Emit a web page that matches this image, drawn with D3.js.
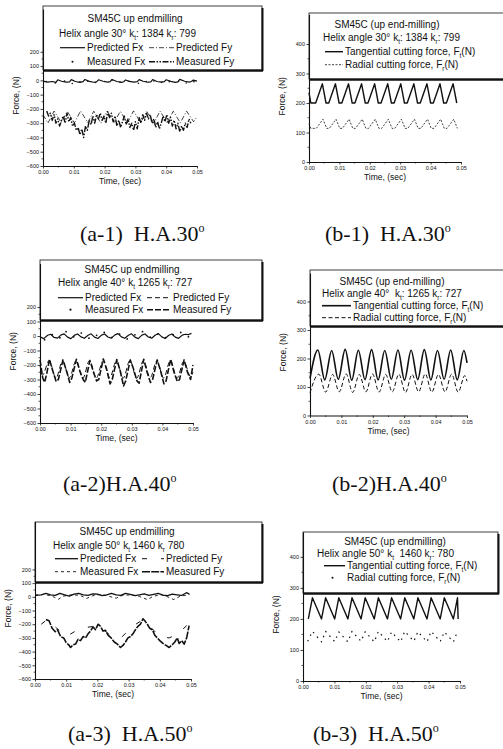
<!DOCTYPE html>
<html>
<head>
<meta charset="utf-8">
<script src="https://cdn.jsdelivr.net/npm/d3@7"></script>
<style>
  body { margin: 0; background: #fff; }
  svg text { font-family: "Liberation Sans", Arial, sans-serif; fill: #111; }
  svg text.cap { font-family: "Liberation Serif", "Times New Roman", serif; }
</style>
</head>
<body>
<script>
// ---- ticks ----
const TIME_TICKS = [0, 0.01, 0.02, 0.03, 0.04, 0.05];
const FXY_TICKS = [-600, -500, -400, -300, -200, -100, 0, 100, 200];
const FTR_TICKS = [0, 100, 200, 300, 400];

// ---- (a-1) helix 30: [time s, force N] ----
const a1PredFx = [[0,-5],[.0015,-12],[.003,-8],[.0042,-14],[.0048,4],[.006,-6],[.0075,-12],[.0086,-10],[.0092,5],[.0105,-8],[.012,-14],[.013,-9],[.0136,6],[.015,-7],[.0165,-13],[.0174,-10],[.018,4],[.0195,-6],[.021,-12],[.0218,-9],[.0224,6],[.024,-8],[.0255,-14],[.0262,-10],[.0268,3],[.028,-7],[.0295,-12],[.0306,-9],[.0312,5],[.0325,-6],[.034,-13],[.035,-10],[.0356,6],[.037,-8],[.0385,-12],[.0394,-9],[.04,4],[.0415,-7],[.043,-14],[.0438,-10],[.0444,7],[.046,-6],[.0475,-12],[.0482,-8],[.0488,2],[.05,-5]];
const a1MeasFx = [[.001,-8],[.004,-18],[.007,-5],[.0095,-22],[.012,-10],[.0145,-5],[.017,-15],[.02,-8],[.0225,2],[.025,-12],[.028,-6],[.031,-20],[.0335,-8],[.036,-4],[.0385,-14],[.041,-10],[.044,-6],[.0465,-18],[.049,-9]];
const a1PredFy = [[0,-240],[.0016,-300],[.0036,-215],[.0059,-295],[.0079,-218],[.0102,-298],[.0122,-214],[.0145,-296],[.0165,-216],[.0188,-300],[.0208,-215],[.0231,-294],[.0251,-217],[.0274,-298],[.0294,-214],[.0317,-296],[.0337,-218],[.036,-300],[.038,-215],[.0403,-295],[.0423,-216],[.0446,-298],[.0466,-215],[.0489,-290],[.05,-255]];
const a1MeasFy = [[.0012,-215],[.0018,-250],[.0024,-230],[.003,-280],[.0036,-240],[.0042,-300],[.0048,-270],[.0054,-320],[.006,-280],[.0066,-250],[.0072,-300],[.0078,-230],[.0084,-290],[.009,-260],[.0096,-320],[.0102,-300],[.0108,-350],[.0114,-330],[.012,-380],[.0126,-340],[.0132,-400],[.0138,-320],[.0144,-350],[.015,-280],[.0156,-310],[.0162,-250],[.0168,-300],[.0174,-240],[.018,-270],[.0186,-230],[.0192,-280],[.0198,-250],[.0204,-300],[.021,-220],[.0216,-260],[.0222,-230],[.0228,-290],[.0234,-250],[.024,-320],[.0246,-280],[.0252,-330],[.0258,-290],[.0264,-250],[.027,-310],[.0276,-270],[.0282,-330],[.0288,-300],[.0294,-350],[.03,-290],[.0306,-340],[.0312,-260],[.0318,-300],[.0324,-240],[.033,-280],[.0336,-230],[.0342,-270],[.0348,-240],[.0354,-300],[.036,-270],[.0366,-330],[.0372,-290],[.0378,-340],[.0384,-300],[.039,-250],[.0396,-290],[.0402,-240],[.0408,-300],[.0414,-260],[.042,-320],[.0426,-280],[.0432,-340],[.0438,-300],[.0444,-360],[.045,-320],[.0456,-350],[.0462,-300],[.0468,-330],[.0474,-270],[.048,-300]];

// ---- (a-2) helix 40 ----
const a2PredFx = [[0,-5],[.0012,-18],[.0025,5],[.0035,12],[.0046,-10],[.0057,-15],[.0069,8],[.0079,15],[.009,-8],[.0101,-18],[.0113,6],[.0123,14],[.0134,-6],[.0145,-16],[.0157,5],[.0167,15],[.0178,-8],[.0189,-17],[.0201,6],[.0211,14],[.0222,-7],[.0233,-15],[.0245,8],[.0255,16],[.0266,-6],[.0277,-16],[.0289,5],[.0299,15],[.031,-8],[.0321,-18],[.0333,6],[.0343,14],[.0354,-7],[.0365,-15],[.0377,7],[.0387,16],[.0398,-6],[.0409,-17],[.0421,5],[.0431,14],[.0442,-8],[.0453,-16],[.0465,6],[.0475,12],[.0486,10],[.0495,18]];
const a2MeasFx = [[.0015,-25],[.004,10],[.0065,-12],[.0085,30],[.011,-5],[.0135,20],[.016,-15],[.0185,5],[.021,25],[.0235,-10],[.026,12],[.0285,-20],[.031,8],[.0335,30],[.036,-8],[.0385,15],[.041,-12],[.0435,10],[.046,25],[.0485,-5]];
const a2PredFy = [[0,-200],[.0008,-270],[.003,-170],[.0052,-290],[.0074,-172],[.0096,-288],[.0118,-170],[.014,-292],[.0162,-168],[.0184,-290],[.0206,-172],[.0228,-288],[.025,-170],[.0272,-290],[.0294,-168],[.0316,-292],[.0338,-170],[.036,-288],[.0382,-172],[.0404,-290],[.0426,-170],[.0448,-290],[.047,-175],[.0492,-280],[.05,-250]];
const a2MeasFy = [[0,-165],[.0009,-290],[.0015,-320],[.0022,-260],[.0031,-160],[.004,-230],[.0053,-315],[.006,-300],[.0075,-165],[.0088,-250],[.0097,-320],[.0104,-290],[.0119,-160],[.013,-240],[.0141,-300],[.0148,-320],[.0163,-170],[.0175,-250],[.0185,-310],[.0192,-300],[.0207,-158],[.0218,-230],[.0229,-330],[.0236,-300],[.0251,-162],[.0262,-240],[.0273,-345],[.028,-310],[.0295,-165],[.0306,-230],[.0317,-310],[.0324,-325],[.0339,-160],[.035,-250],[.0361,-320],[.0368,-300],[.0383,-165],[.0394,-240],[.0405,-330],[.0412,-310],[.0427,-160],[.0438,-250],[.0449,-315],[.0456,-300],[.0471,-165],[.0482,-250],[.0492,-300],[.05,-200]];

// ---- (a-3) helix 50 ----
const a3PredFx = [[0,10],[.002,15],[.0035,25],[.005,15],[.0065,10],[.008,25],[.0095,15],[.011,5],[.0125,20],[.014,25],[.0155,15],[.017,10],[.0185,22],[.02,20],[.0215,8],[.023,15],[.0245,25],[.026,15],[.0275,10],[.029,25],[.0305,18],[.032,8],[.0335,15],[.035,22],[.0365,10],[.038,18],[.0395,25],[.041,12],[.0425,8],[.044,20],[.0455,15],[.047,10],[.0485,30],[.0495,20]];
const a3MeasFx = [[0,12],[.003,18],[.0055,5],[.0075,-18],[.009,5],[.012,15],[.0145,10],[.0165,-12],[.0185,8],[.021,18],[.0235,5],[.026,-10],[.028,10],[.031,15],[.0335,2],[.036,-20],[.038,5],[.0405,15],[.0425,0],[.0445,-20],[.0465,5],[.0485,12],[.0495,15]];
const a3PredFy = [[.002,-200],[.004,-165],[.007,-230],[.01,-290],[.013,-250],[.016,-225],[.019,-215],[.022,-240],[.025,-300],[.028,-290],[.031,-220],[.034,-175],[.037,-220],[.04,-290],[.043,-300],[.046,-270],[.049,-200]];
const a3MeasFy = [[.0035,-165],[.0045,-175],[.0055,-230],[.0065,-255],[.0072,-240],[.0082,-290],[.0092,-300],[.01,-335],[.0108,-350],[.0114,-370],[.0122,-350],[.013,-345],[.0138,-310],[.0146,-320],[.0154,-290],[.0162,-300],[.017,-270],[.0178,-250],[.0186,-220],[.0194,-240],[.0202,-200],[.021,-215],[.0218,-250],[.0226,-245],[.0234,-280],[.0244,-300],[.0254,-330],[.0264,-345],[.0274,-370],[.0282,-355],[.029,-330],[.0298,-300],[.0306,-290],[.0314,-270],[.0322,-240],[.033,-215],[.0338,-200],[.0346,-160],[.0352,-175],[.036,-200],[.0368,-230],[.0376,-240],[.0384,-280],[.0392,-300],[.04,-320],[.041,-340],[.042,-355],[.043,-370],[.044,-350],[.0448,-330],[.0456,-300],[.0462,-340],[.047,-320],[.0478,-345],[.0486,-300],[.0494,-210]];

// ---- (b-1) helix 30: tangential / radial ----
const b1Tang = [[0,235],[.0006,200],[.0022,200],[.0044,265],[.0056,200],[.0065,200],[.0087,265],[.0099,200],[.0108,200],[.013,265],[.0142,200],[.0151,200],[.0173,265],[.0185,200],[.0194,200],[.0216,265],[.0228,200],[.0237,200],[.0259,265],[.0271,200],[.028,200],[.0302,265],[.0314,200],[.0323,200],[.0345,265],[.0357,200],[.0366,200],[.0388,265],[.04,200],[.0409,200],[.0431,265],[.0443,200],[.0452,200],[.0474,265],[.0486,200]];
const b1Rad = [[0,130],[.0006,114],[.0024,114],[.0046,145],[.0058,114],[.0067,114],[.0089,145],[.0101,114],[.011,114],[.0132,145],[.0144,114],[.0153,114],[.0175,145],[.0187,114],[.0196,114],[.0218,145],[.023,114],[.0239,114],[.0261,145],[.0273,114],[.0282,114],[.0304,145],[.0316,114],[.0325,114],[.0347,145],[.0359,114],[.0368,114],[.039,145],[.0402,114],[.0411,114],[.0433,145],[.0445,114],[.0454,114],[.0476,145],[.0488,114]];

// ---- (b-2) helix 40 ----
const b2Tang = [[0,130],[.0025,230],[.0047,125],[.0069,228],[.009,127],[.0112,232],[.0133,124],[.0154,229],[.0175,126],[.0196,231],[.0217,125],[.0238,228],[.0259,127],[.028,230],[.0301,124],[.0322,229],[.0343,126],[.0364,231],[.0385,125],[.0406,228],[.0427,127],[.0448,230],[.0469,125],[.049,228],[.05,185]];
const b2Rad = [[0,80],[.0028,145],[.005,82],[.0072,144],[.0093,83],[.0115,146],[.0136,81],[.0157,144],[.0178,83],[.0199,146],[.022,82],[.0241,144],[.0262,83],[.0283,145],[.0304,81],[.0325,144],[.0346,83],[.0367,146],[.0388,82],[.0409,144],[.043,83],[.0451,145],[.0472,82],[.0493,140],[.05,120]];

// ---- (b-3) helix 50 ----
const b3Tang = [[.0017,200],[.003,268],[.0059,200],[.0072,268],[.0101,200],[.0114,268],[.0143,200],[.0156,268],[.0185,200],[.0198,268],[.0227,200],[.024,268],[.0269,200],[.0282,268],[.0311,200],[.0324,268],[.0353,200],[.0366,268],[.0395,200],[.0408,268],[.0437,200],[.045,268],[.0479,200],[.0492,268],[.0494,200]];
const b3Rad = [[.0015,128],[.003,160],[.0059,126],[.0072,160],[.0101,127],[.0114,158],[.0143,126],[.0156,160],[.0185,128],[.0198,159],[.0227,126],[.024,160],[.0269,127],[.0282,158],[.0311,126],[.0324,160],[.0353,128],[.0366,159],[.0395,126],[.0408,160],[.0437,127],[.045,158],[.0479,126],[.0492,160]];

// ---- captions ----
const CAPTIONS = [
  { id: '(a-1)  H.A.30', x: 80, y: 241 }, { id: '(b-1)  H.A.30', x: 325, y: 241 },
  { id: '(a-2)H.A.40', x: 63, y: 491 }, { id: '(b-2)H.A.40', x: 332, y: 491 },
  { id: '(a-3)  H.A.50', x: 68, y: 741 }, { id: '(b-3)  H.A.50', x: 313, y: 741 }
];

const INK = '#111';
const svg = d3.select('body').append('svg').attr('width', 503).attr('height', 749);
svg.append('rect').attr('width', 503).attr('height', 749).attr('fill', '#fff');

// text with "_x" subscript parts
function rich(g, x, y, parts, size) {
  const t = g.append('text').attr('x', x).attr('y', y)
    .attr('font-size', size).attr('xml:space', 'preserve');
  let shifted = false;
  parts.forEach(p => {
    if (p.startsWith('_')) {
      t.append('tspan').attr('dy', size * 0.25).attr('font-size', size * 0.65).text(p.slice(1));
      shifted = true;
    } else {
      const ts = t.append('tspan').text(p);
      if (shifted) { ts.attr('dy', -size * 0.25); shifted = false; }
    }
  });
  return t;
}

function sample(g, x1, x2, y, st) {
  if (st.dots) {
    g.append('circle').attr('cx', (x1 + x2) / 2).attr('cy', y).attr('r', st.r + 0.2).attr('fill', INK);
  } else {
    g.append('line').attr('x1', x1).attr('x2', x2).attr('y1', y).attr('y2', y)
      .attr('stroke', INK).attr('stroke-width', st.w)
      .attr('stroke-dasharray', st.dash || null);
  }
}

function drawPanel(p) {
  const g = svg.append('g');
  const x = d3.scaleLinear().domain([0, 0.05]).range([p.left, p.right]);
  const y = d3.scaleLinear().domain(p.yDomain).range([p.bottom, p.top]);

  p.series.forEach(s => {
    if (s.dots) {
      g.selectAll(null).data(s.data).join('circle')
        .attr('cx', d => x(d[0])).attr('cy', d => y(d[1]))
        .attr('r', s.r).attr('fill', INK);
    } else {
      g.append('path').datum(s.data)
        .attr('fill', 'none').attr('stroke', INK)
        .attr('stroke-width', s.w).attr('stroke-linejoin', 'round')
        .attr('stroke-dasharray', s.dash || null)
        .attr('d', d3.line().x(d => x(d[0])).y(d => y(d[1])).curve(s.curve || d3.curveLinear));
    }
  });

  // legend box with heavy shadow edges
  const L = p.legend;
  const [bx0, by0, bx1, by1] = L.box;
  g.append('rect').attr('x', bx0).attr('y', by0).attr('width', bx1 - bx0).attr('height', by1 - by0)
    .attr('fill', '#fff').attr('stroke', INK).attr('stroke-width', 0.8);
  g.append('line').attr('x1', bx0).attr('x2', bx1 + 1).attr('y1', by1 + 0.6).attr('y2', by1 + 0.6)
    .attr('stroke', INK).attr('stroke-width', 2.4);
  g.append('line').attr('x1', bx1 + 0.5).attr('x2', bx1 + 0.5).attr('y1', by0 + 2).attr('y2', by1 + 1)
    .attr('stroke', INK).attr('stroke-width', 2);
  g.append('text').attr('x', L.title[0]).attr('y', L.title[1]).attr('font-size', L.size)
    .attr('text-anchor', 'middle').text(L.title[2]);
  rich(g, L.helix[0], L.helix[1], L.helix[2], L.size);
  L.rows.forEach(r => {
    const st = typeof r[3] === 'number' ? p.series[r[3]] : r[3];
    sample(g, r[0], r[1], r[2] - L.size * 0.33, st);
    rich(g, r[1] + 2, r[2], r[4], L.size);
  });

  // axes
  const ya = g.append('g').attr('transform', `translate(${p.left},0)`)
    .call(d3.axisLeft(y).tickValues(p.yTicks).tickSize(2.5).tickSizeOuter(0).tickPadding(1.5).tickFormat(d3.format('d')));
  const xa = g.append('g').attr('transform', `translate(0,${p.bottom})`)
    .call(d3.axisBottom(x).tickValues(TIME_TICKS).tickSize(2.5).tickSizeOuter(0).tickPadding(2).tickFormat(d3.format('.2f')));
  [ya, xa].forEach(a => {
    a.select('.domain').attr('stroke', INK).attr('stroke-width', 1.1);
    a.selectAll('.tick line').attr('stroke', INK).attr('stroke-width', 0.8);
    a.selectAll('.tick text').attr('font-size', 5.5).attr('font-family', '"Liberation Sans", Arial, sans-serif').attr('fill', INK);
  });
  const yMinor = d3.range(p.yTicks[0] + 50, p.yTicks[p.yTicks.length - 1], 100);
  g.selectAll(null).data(yMinor).join('line')
    .attr('x1', p.left - 1.5).attr('x2', p.left).attr('y1', d => y(d)).attr('y2', d => y(d))
    .attr('stroke', INK).attr('stroke-width', 0.7);
  const xMinor = [0.005, 0.015, 0.025, 0.035, 0.045];
  g.selectAll(null).data(xMinor).join('line')
    .attr('x1', d => x(d)).attr('x2', d => x(d)).attr('y1', p.bottom).attr('y2', p.bottom + 1.5)
    .attr('stroke', INK).attr('stroke-width', 0.7);

  g.append('text').attr('x', (p.left + p.right) / 2).attr('y', p.bottom + 18)
    .attr('font-size', 8.5).attr('text-anchor', 'middle').text('Time, (sec)');
  g.append('text').attr('transform', `translate(${p.left - 24},${(p.top + p.bottom) / 2 + 8}) rotate(-90)`)
    .attr('font-size', 8.5).attr('text-anchor', 'middle').text('Force, (N)');
}

// 2x2 legend grid for the Fx/Fy panels
const aRows = (c1, c2, y1, y2) => [
  [c1[0], c1[1], y1, 0, ['Predicted Fx']], [c2[0], c2[1], y1, 2, ['Predicted Fy']],
  [c1[0], c1[1], y2, 1, ['Measured Fx']], [c2[0], c2[1], y2, 3, ['Measured Fy']]
];
const TANG_LABEL = ['Tangential cutting force, F', '_t', '(N)'];
const RAD_LABEL = ['Radial cutting force, F', '_r', '(N)'];

const PANELS = [
  { left: 43, right: 197, top: 9, bottom: 166, yDomain: [-600, 500], yTicks: FXY_TICKS,
    series: [
      { data: a1PredFx, w: 1.2 }, { data: a1MeasFx, dots: true, r: 0.8 },
      { data: a1PredFy, w: 0.8, dash: '5,2,1,2' }, { data: a1MeasFy, w: 1.4, dash: '6,1.5,1.5,1.5,1.5,1.5' }],
    legend: { box: [43, 6, 262, 70], size: 10, title: [135, 22, 'SM45C up endmilling'],
      helix: [59, 37, ['Helix angle 30° k', '_t', ': 1384 k', '_r', ': 799']],
      rows: aRows([60, 85], [149, 174], 51, 65) } },
  { left: 309, right: 461, top: 14.5, bottom: 162, yDomain: [0, 500], yTicks: FTR_TICKS,
    series: [{ data: b1Tang, w: 1.4 }, { data: b1Rad, w: 0.8, dash: '2,1.5' }],
    legend: { box: [309, 13, 506, 79], size: 10, title: [387, 28, 'SM45C (up end-milling)'],
      helix: [323, 41, ['Helix angle 30° k', '_t', ': 1384 k', '_r', ': 799']],
      rows: [[325, 343, 55, 0, TANG_LABEL], [325, 343, 68, 1, RAD_LABEL]] } },
  { left: 40, right: 193, top: 263.5, bottom: 423, yDomain: [-600, 500], yTicks: FXY_TICKS,
    series: [
      { data: a2PredFx, w: 1.2 }, { data: a2MeasFx, dots: true, r: 0.9 },
      { data: a2PredFy, w: 1.0, dash: '5,3', curve: d3.curveMonotoneX }, { data: a2MeasFy, w: 1.6, dash: '6,2' }],
    legend: { box: [40, 260, 262, 320], size: 10, title: [132, 273, 'SM45C up endmilling'],
      helix: [58, 286, ['Helix angle 40° k', '_t', ' 1265 k', '_r', ': 727']],
      rows: aRows([58, 83], [147, 171], 301, 313) } },
  { left: 310, right: 467, top: 273, bottom: 415.5, yDomain: [0, 500], yTicks: FTR_TICKS,
    series: [{ data: b2Tang, w: 1.6, curve: d3.curveMonotoneX }, { data: b2Rad, w: 1, dash: '4,2.5', curve: d3.curveMonotoneX }],
    legend: { box: [310, 270, 506, 326], size: 10, title: [392, 285, 'SM45C (up end-milling)'],
      helix: [322, 297, ['Helix angle 40°  k', '_t', ': 1265 k', '_r', ': 727']],
      rows: [[322, 351, 309, 0, TANG_LABEL], [322, 351, 321, 1, RAD_LABEL]] } },
  { left: 35, right: 191, top: 521.5, bottom: 679, yDomain: [-600, 550], yTicks: FXY_TICKS,
    series: [
      { data: a3PredFx, w: 1.3 }, { data: a3MeasFx, w: 0.9, dash: '3,3' },
      { data: a3PredFy, w: 1, dash: '5,14' }, { data: a3MeasFy, w: 1.6, dash: '8,1.2' }],
    legend: { box: [35, 522, 262, 582], size: 10, title: [127, 535, 'SM45C up endmilling'],
      helix: [53, 549, ['Helix angle 50° k', '_t', ' 1460 k', '_r', ' 780']],
      rows: aRows([55, 78], [142, 164], 562, 575) } },
  { left: 303, right: 460, top: 532, bottom: 681, yDomain: [0, 480], yTicks: FTR_TICKS,
    series: [{ data: b3Tang, w: 1.4 }, { data: b3Rad, w: 1.2, dash: '1.5,4.5' }],
    legend: { box: [303, 532, 498, 593], size: 10, title: [395, 545, 'SM45C (up endmilling)'],
      helix: [317, 557, ['Helix angle 50° k', '_t', '  1460 k', '_r', ': 780']],
      rows: [[324, 345, 569, 0, TANG_LABEL], [320, 345, 581, { dots: true, r: 0.8 }, RAD_LABEL]] } }
];

PANELS.forEach(drawPanel);

CAPTIONS.forEach(c => {
  const t = svg.append('text').attr('class', 'cap').attr('x', c.x).attr('y', c.y)
    .attr('font-size', 22).attr('xml:space', 'preserve');
  t.append('tspan').text(c.id);
  t.append('tspan').attr('dy', -9).attr('font-size', 12).text('o');
});
</script>
</body>
</html>
